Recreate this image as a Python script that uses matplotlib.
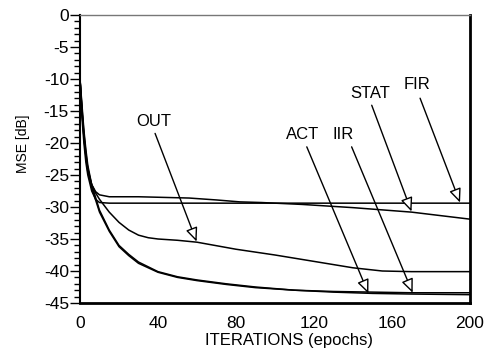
import matplotlib
matplotlib.use("Agg")
import matplotlib.pyplot as plt
from matplotlib.ticker import MultipleLocator

plt.rcParams['font.family'] = ['Liberation Sans', 'DejaVu Sans']

# ---- data ----
epochs_fir = [0, 1, 2, 3, 4, 6, 8, 10, 15, 40, 100, 200]
mse_fir = [-10, -16, -20, -23, -25, -27.5, -28.8, -29.3, -29.4, -29.4, -29.4, -29.4]

epochs_stat = [0, 1, 2, 3, 4, 6, 8, 10, 15, 30, 56, 70, 82, 93, 114, 140, 170, 200]
mse_stat = [-10, -15, -19, -22, -24, -26.5, -27.6, -28.1, -28.4, -28.4, -28.6, -28.9,
            -29.2, -29.3, -29.6, -30.1, -30.8, -31.9]

epochs_out = [0, 1, 2, 3, 4, 6, 8, 10, 15, 20, 25, 30, 35, 40, 50, 60, 80, 100, 120,
              140, 155, 170, 200]
mse_out = [-10, -15, -19, -22, -24.5, -26.5, -27.8, -28.8, -30.8, -32.4, -33.6, -34.4,
           -34.8, -35.0, -35.2, -35.5, -36.6, -37.5, -38.5, -39.5, -40.0, -40.1, -40.1]

epochs_act = [0, 1, 2, 3, 4, 6, 8, 10, 15, 20, 25, 30, 40, 50, 60, 75, 90, 110, 130,
              150, 170, 200]
mse_act = [-10, -14, -18, -21, -23.5, -26.5, -28.5, -30.5, -33.6, -36.0, -37.4, -38.6,
           -40.1, -40.9, -41.4, -42.0, -42.5, -43.0, -43.3, -43.5, -43.6, -43.7]

epochs_iir = [0, 1, 2, 3, 4, 6, 8, 10, 15, 20, 25, 30, 40, 50, 60, 75, 90, 110, 130,
              150, 170, 200]
mse_iir = [-10, -14.5, -18.5, -21.5, -24, -27, -28.9, -30.8, -33.8, -36.2, -37.6, -38.8,
           -40.2, -41.0, -41.5, -42.1, -42.6, -43.0, -43.2, -43.3, -43.4, -43.4]

labels = ["OUT", "ACT", "IIR", "STAT", "FIR"]
label_xy = [(37.9, -16.6), (114.1, -18.6), (134.9, -18.6), (148.7, -12.2), (172.8, -10.8)]
arrow_start = [(38.5, -18.5), (116.3, -20.6), (139.3, -20.6), (149.6, -14.1), (174.4, -13.0)]
arrow_tip = [(59.8, -35.4), (147.9, -43.5), (170.6, -43.4), (170.0, -30.7), (194.9, -29.3)]

x_ticks = [0, 40, 80, 120, 160, 200]
y_ticks = [0, -5, -10, -15, -20, -25, -30, -35, -40, -45]

# ---- figure ----
fig = plt.figure(figsize=(4.88, 3.60), dpi=100)
ax = fig.add_axes([80 / 488, 1 - 303 / 360, 390 / 488, 288 / 360])

for xs, ys in [(epochs_fir, mse_fir), (epochs_stat, mse_stat), (epochs_out, mse_out),
               (epochs_act, mse_act), (epochs_iir, mse_iir)]:
    ax.plot(xs, ys, color='black', lw=1.1)

ax.set_xlim(0, 200)
ax.set_ylim(-45, 0)
ax.set_xticks(x_ticks)
ax.set_yticks(y_ticks)
ax.set_yticklabels([str(v) for v in y_ticks])
ax.yaxis.set_minor_locator(MultipleLocator(1))
ax.tick_params(axis='x', length=0, pad=9, labelsize=12.5)
ax.tick_params(axis='y', which='major', length=7, width=1.0, pad=1, labelsize=12.5, direction='out')
ax.tick_params(axis='y', which='minor', length=4.5, width=1.0, direction='out')

ax.spines['top'].set_color('#777777')
ax.spines['top'].set_linewidth(1.0)
ax.spines['left'].set_linewidth(1.5)
ax.spines['bottom'].set_linewidth(2.0)
ax.spines['right'].set_linewidth(2.0)

for lab, (tx, ty), (sx, sy), (hx, hy) in zip(labels, label_xy, arrow_start, arrow_tip):
    ax.text(tx, ty, lab, ha='center', va='center', fontsize=12)
    ax.annotate('', xy=(hx, hy), xytext=(sx, sy),
                arrowprops=dict(arrowstyle='-|>,head_length=0.7,head_width=0.3',
                                fc='white', ec='black', lw=1.0, mutation_scale=12,
                                shrinkA=0, shrinkB=0))

fig.text(289 / 488, 1 - 341 / 360, 'ITERATIONS (epochs)', ha='center', va='center', fontsize=12)
fig.text(23 / 488, 1 - 144 / 360, 'MSE [dB]', ha='center', va='center', rotation=90, fontsize=10)

fig.savefig('out.png', dpi=100)
